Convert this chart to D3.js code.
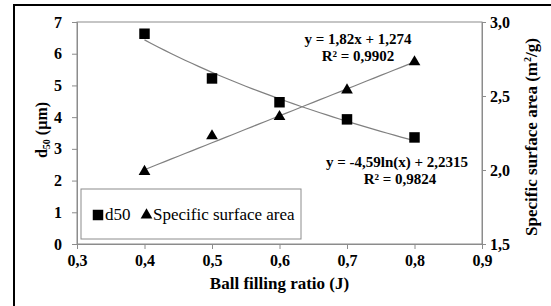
<!DOCTYPE html>
<html>
<head>
<meta charset="utf-8">
<script src="https://cdn.jsdelivr.net/npm/d3@7"></script>
<style>
  body { margin: 0; background: #fff; }
  svg { display: block; }
  svg text { font-family: "Liberation Serif", "Times New Roman", Times, serif !important; }
</style>
</head>
<body>
<script>
// data
const ratio = [0.4, 0.5, 0.6, 0.7, 0.8];
const d50 = [6.63, 5.22, 4.47, 3.93, 3.36];
const ssa = [1.99, 2.23, 2.36, 2.54, 2.73];
const xTicks = [0.3, 0.4, 0.5, 0.6, 0.7, 0.8, 0.9];
const leftTicks = [0, 1, 2, 3, 4, 5, 6, 7];
const rightTicks = [1.5, 2.0, 2.5, 3.0];

const width = 551, height = 306;
let margin = {top: 22, right: 69, bottom: 62, left: 77};
const pw = width - margin.left - margin.right,
      ph = height - margin.top - margin.bottom;

const fmt = (v, d) => v.toFixed(d).replace(".", ",");

const svg = d3.select("body").append("svg")
    .attr("width", width)
    .attr("height", height);

// outer frame (runs off the picture right and bottom)
svg.append("rect")
    .attr("x", 14).attr("y", 5)
    .attr("width", 600).attr("height", 400)
    .attr("fill", "none").attr("stroke", "#000").attr("stroke-width", 2);

const x = d3.scaleLinear().domain([0.3, 0.9]).range([0, pw]);
const yL = d3.scaleLinear().domain([0, 7]).range([ph, 0]);
const yR = d3.scaleLinear().domain([1.5, 3.0]).range([ph, 0]);

const g = svg.append("g").attr("transform", `translate(${margin.left},${margin.top})`);

g.append("rect")
    .attr("width", pw).attr("height", ph)
    .attr("fill", "none").attr("stroke", "#8c8c8c").attr("stroke-width", 1);

function styleAxis(sel) {
  sel.select(".domain").attr("stroke", "#8c8c8c");
  sel.selectAll(".tick line").attr("stroke", "#8c8c8c");
  sel.selectAll(".tick text")
      .attr("fill", "#000")
      .attr("font-weight", "bold")
      .attr("font-size", "16px");
}

g.append("g")
    .attr("transform", `translate(0,${ph})`)
    .call(d3.axisBottom(x).tickValues(xTicks).tickFormat(d => fmt(d, 1)).tickSizeOuter(0).tickSize(5).tickPadding(6))
    .call(styleAxis);

g.append("g")
    .call(d3.axisLeft(yL).tickValues(leftTicks).tickFormat(d => d).tickSizeOuter(0).tickSize(5).tickPadding(10))
    .call(styleAxis);

g.append("g")
    .attr("transform", `translate(${pw},0)`)
    .call(d3.axisRight(yR).tickValues(rightTicks).tickFormat(d => fmt(d, 1)).tickSizeOuter(0).tickSize(4).tickPadding(4))
    .call(styleAxis);

// trend lines
const xs = d3.range(0.4, 0.8001, 0.01);
const logFit = v => -4.59 * Math.log(v) + 2.2315;
const linFit = v => 1.82 * v + 1.274;

g.append("path")
    .datum(xs)
    .attr("fill", "none").attr("stroke", "#808080").attr("stroke-width", 1.2)
    .attr("d", d3.line().x(d => x(d)).y(d => yL(logFit(d))));

g.append("path")
    .datum(xs)
    .attr("fill", "none").attr("stroke", "#808080").attr("stroke-width", 1.2)
    .attr("d", d3.line().x(d => x(d)).y(d => yR(linFit(d))));

const sq = d3.symbol().type(d3.symbolSquare).size(110);
const tri = d3.symbol().type(d3.symbolTriangle).size(60);

g.selectAll(".sq")
    .data(ratio)
    .enter().append("path")
    .attr("class", "sq")
    .attr("d", sq)
    .attr("transform", (d, i) => `translate(${x(d)},${yL(d50[i])})`)
    .attr("fill", "#000");

g.selectAll(".tri")
    .data(ratio)
    .enter().append("path")
    .attr("class", "tri")
    .attr("d", tri)
    .attr("transform", (d, i) => `translate(${x(d)},${yR(ssa[i])})`)
    .attr("fill", "#000");

// equations
const eq = [
  {t: "y = 1,82x + 1,274", cx: 358, y: 44},
  {t: "R² = 0,9902", cx: 358, y: 61},
  {t: "y = -4,59ln(x) + 2,2315", cx: 397, y: 167},
  {t: "R² = 0,9824", cx: 400, y: 184}
];
svg.selectAll(".eq")
    .data(eq)
    .enter().append("text")
    .attr("x", d => d.cx).attr("y", d => d.y)
    .attr("text-anchor", "middle")
    .attr("font-weight", "bold")
    .attr("font-size", "15px")
    .text(d => d.t);

// legend
svg.append("rect")
    .attr("x", 81).attr("y", 189)
    .attr("width", 220).attr("height", 50)
    .attr("fill", "#fff").attr("stroke", "#8c8c8c");
svg.append("path").attr("d", sq).attr("transform", "translate(98,215)").attr("fill", "#000");
svg.append("text").attr("x", 105).attr("y", 220).attr("font-size", "17px").text("d50");
svg.append("path").attr("d", tri).attr("transform", "translate(146.5,215)").attr("fill", "#000");
svg.append("text").attr("x", 153).attr("y", 220).attr("font-size", "17px").text("Specific surface area");

// axis titles
svg.append("text")
    .attr("x", margin.left + pw / 2).attr("y", 289)
    .attr("text-anchor", "middle")
    .attr("font-weight", "bold").attr("font-size", "17px")
    .text("Ball filling ratio (J)");

const lt = svg.append("text")
    .attr("transform", `translate(47,130) rotate(-90)`)
    .attr("text-anchor", "middle")
    .attr("font-weight", "bold").attr("font-size", "16px");
lt.append("tspan").text("d");
lt.append("tspan").attr("font-size", "10px").attr("dy", 3).text("50");
lt.append("tspan").attr("dy", -3).text(" (µm)");

const rt = svg.append("text")
    .attr("transform", `translate(537,137) rotate(-90)`)
    .attr("text-anchor", "middle")
    .attr("font-weight", "bold").attr("font-size", "17px");
rt.append("tspan").text("Specific surface area (m");
rt.append("tspan").attr("font-size", "10px").attr("dy", -6).text("2");
rt.append("tspan").attr("dy", 6).text("/g)");
</script>
</body>
</html>
